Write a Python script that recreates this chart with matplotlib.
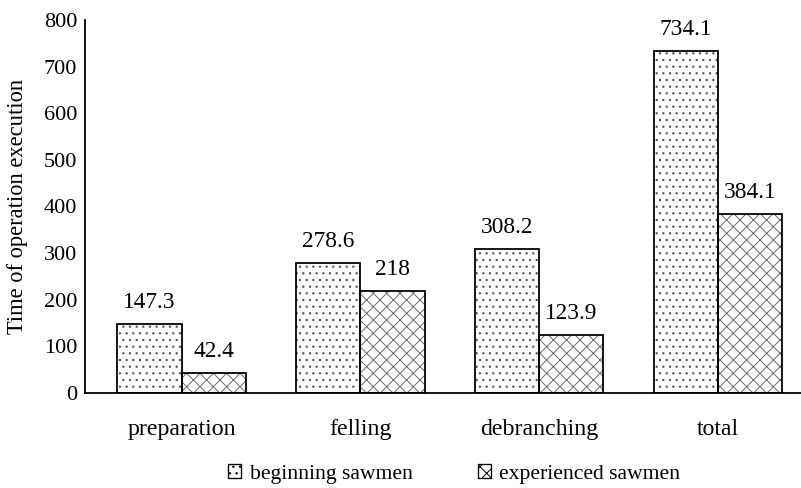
import matplotlib
matplotlib.use("Agg")
import matplotlib.pyplot as plt
import numpy as np
from matplotlib.patches import Patch

categories = ["preparation", "felling", "debranching", "total"]
beginning = [147.3, 278.6, 308.2, 734.1]
experienced = [42.4, 218, 123.9, 384.1]
series_names = ["beginning sawmen", "experienced sawmen"]
y_ticks = [0, 100, 200, 300, 400, 500, 600, 700, 800]

DPI = 80
plt.rcParams["font.family"] = ["Liberation Serif", "DejaVu Serif"]
plt.rcParams["hatch.linewidth"] = 0.9

fig = plt.figure(figsize=(801 / DPI, 488 / DPI), dpi=DPI)
ax = fig.add_axes([85 / 801, 1 - 393 / 488, 1 - 85 / 801, (393 - 20) / 488])

x = np.arange(len(categories))
w = 0.36
styles = [("..", "#555555"), ("xx", "#6e6e6e")]

for i, (vals, (hatch, hcol)) in enumerate(zip([beginning, experienced], styles)):
    pos = x + (i - 0.5) * w
    # hatch fill (hatch colour follows edgecolor), then crisp black outline
    ax.bar(pos, vals, w, color="white", edgecolor=hcol, hatch=hatch, linewidth=0, zorder=2)
    ax.bar(pos, vals, w, fill=False, edgecolor="black", linewidth=1.6, zorder=3)
    for xp, v in zip(pos, vals):
        ax.annotate(f"{v:g}", (xp, v), xytext=(0, 14.4), textcoords="offset points",
                    ha="center", va="baseline", fontsize=21)

ax.set_xlim(-0.54, 3.465)
ax.set_ylim(0, 800)
ax.set_yticks(y_ticks)
ax.set_yticklabels([str(t) for t in y_ticks])
ax.set_xticks(x)
ax.set_xticklabels(categories)
ax.tick_params(axis="both", length=0)
ax.tick_params(axis="y", pad=7, labelsize=20)
ax.tick_params(axis="x", pad=23, labelsize=21.5)
for s in ["top", "right"]:
    ax.spines[s].set_visible(False)
for s in ["left", "bottom"]:
    ax.spines[s].set_linewidth(1.6)
    ax.spines[s].set_color("black")
ax.set_ylabel("Time of operation execution", fontsize=20.3)
ax.yaxis.set_label_coords(-0.0796, 0.5)

handles = [Patch(facecolor="white", edgecolor="black", hatch="..", linewidth=1.2),
           Patch(facecolor="white", edgecolor="black", hatch="xx", linewidth=1.2)]
fig.legend(handles, series_names, loc="center", bbox_to_anchor=(0.567, 1 - 474 / 488),
           ncol=2, frameon=False, fontsize=19.5, handlelength=0.6, handleheight=0.6,
           handletextpad=0.4, columnspacing=3.0, borderpad=0)

fig.savefig("out.png", dpi=DPI)
